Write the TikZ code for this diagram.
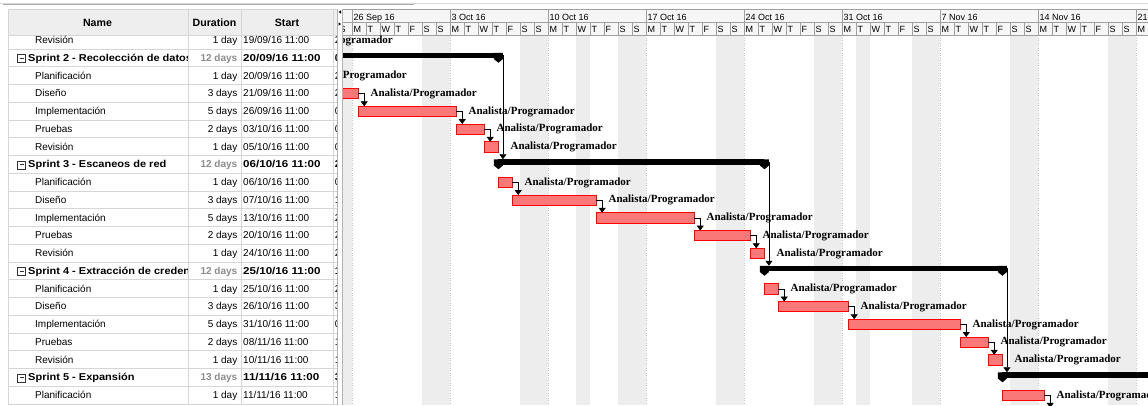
\documentclass[tikz,border=0pt]{standalone}
\usepackage{fontspec}
\setmainfont{Liberation Sans}
\newfontfamily\resfont{Liberation Serif}
\usetikzlibrary{arrows.meta}
\definecolor{barfill}{RGB}{250,120,120}
\definecolor{barline}{RGB}{255,0,0}
\definecolor{wkend}{RGB}{237,237,237}
\definecolor{hdrbg}{RGB}{238,238,238}
\definecolor{chhdrbg}{RGB}{246,246,246}
\definecolor{gridc}{RGB}{214,214,214}
\definecolor{durgray}{RGB}{140,140,140}
\newcommand\dayletter[1]{\ifcase#1 M\or T\or W\or T\or F\or S\or S\fi}

\begin{document}
\begin{tikzpicture}[x=1pt,y=-1pt,
  tabtext/.style={font=\fontsize{10}{12}\selectfont,inner sep=0pt,anchor=base west},
  tabbold/.style={font=\bfseries\fontsize{10}{12}\selectfont,inner sep=0pt,anchor=base west},
  hdrtext/.style={font=\bfseries\fontsize{10.6}{12}\selectfont,inner sep=0pt,anchor=base},
  scaletext/.style={font=\fontsize{9}{11}\selectfont,inner sep=0pt,anchor=base west},
  taskbar/.style={draw=barline,fill=barfill,line width=0.8pt,minimum height=10.2pt,inner sep=0pt,outer sep=0pt,anchor=west},
  sumbar/.style={fill=black,minimum height=5.3pt,inner sep=0pt,outer sep=0pt,anchor=west},
  link/.style={draw=black,line width=0.8pt,-{Triangle[width=7pt,length=5pt]}},
  resname/.style={font=\resfont\bfseries\fontsize{11}{13}\selectfont,inner sep=0pt,anchor=west},
  hdrline/.style={draw=gray!75,line width=0.6pt},
  gridline/.style={draw=gridc,line width=0.6pt}]
\useasboundingbox (0,0) rectangle (1148,405);
\fill[white] (0,0) rectangle (1148,405);

% window top edge
\draw[gray!30,line width=0.6pt] (0,3.5) -- (1148,3.5);
\draw[gray!65,line width=1.6pt] (3,4.3) -- (414,4.3);

% ---------------- task table ----------------
\fill[hdrbg] (8,9) rectangle (337,35);
\draw[gridline] (8,9) -- (337,9);
\draw[gridline] (8,35) -- (337,35);
\foreach \x in {8.5,188,241,333} \draw[gridline] (\x,9) -- (\x,35);
\node[hdrtext] (hname) at (97.5,26) {Name};
\node[hdrtext] (hdur) at (214.5,26) {Duration};
\node[hdrtext] (hstart) at (287,26) {Start};

\begin{scope}
\clip (8,35) rectangle (337,405);
\foreach \k in {0,...,20} \draw[gridline] (8,{48.875+17.75*\k}) -- (337,{48.875+17.75*\k});
\foreach \x in {8.5,188,241,333} \draw[gridline] (\x,35) -- (\x,405);

% plain task rows
\foreach \k/\tname/\tdur/\tstart/\tfin in {
  0/Revisión/1 day/{19/09/16 11:00}/2,
  2/Planificación/1 day/{20/09/16 11:00}/2,
  3/Diseño/3 days/{21/09/16 11:00}/2,
  4/Implementación/5 days/{26/09/16 11:00}/0,
  5/Pruebas/2 days/{03/10/16 11:00}/0,
  6/Revisión/1 day/{05/10/16 11:00}/0,
  8/Planificación/1 day/{06/10/16 11:00}/0,
  9/Diseño/3 days/{07/10/16 11:00}/1,
  10/Implementación/5 days/{13/10/16 11:00}/2,
  11/Pruebas/2 days/{20/10/16 11:00}/2,
  12/Revisión/1 day/{24/10/16 11:00}/2,
  14/Planificación/1 day/{25/10/16 11:00}/2,
  15/Diseño/3 days/{26/10/16 11:00}/3,
  16/Implementación/5 days/{31/10/16 11:00}/0,
  17/Pruebas/2 days/{08/11/16 11:00}/1,
  18/Revisión/1 day/{10/11/16 11:00}/1,
  20/Planificación/1 day/{11/11/16 11:00}/1}{
  \pgfmathsetmacro\yb{40+17.75*\k+3.5}
  \begin{scope}
    \clip (8,35) rectangle (187.5,405);
    \node[tabtext] (nm\k) at (35,\yb) {\tname};
  \end{scope}
  \node[tabtext,anchor=base east] (du\k) at (237.5,\yb) {\tdur};
  \node[tabtext] (st\k) at (243,\yb) {\tstart};
  \begin{scope}
    \clip (333.5,35) rectangle (337,405);
    \node[tabtext] (fn\k) at (334.6,\yb) {\tfin};
  \end{scope}
}

% sprint (summary) rows
\foreach \k/\tname/\tdur/\tstart/\tfin in {
  1/{Sprint 2 - Recolección de datos}/12 days/{20/09/16 11:00}/0,
  7/{Sprint 3 - Escaneos de red}/12 days/{06/10/16 11:00}/2,
  13/{Sprint 4 - Extracción de credenciales}/12 days/{25/10/16 11:00}/1,
  19/{Sprint 5 - Expansión}/13 days/{11/11/16 11:00}/3}{
  \pgfmathsetmacro\yc{40+17.75*\k}
  \pgfmathsetmacro\yb{\yc+3.5}
  \draw[gray!40!black,line width=0.5pt,fill=white] (17.5,\yc-3.5) rectangle (25.5,\yc+4.5);
  \draw[gray!40!black,line width=0.6pt] (19.5,\yc+0.5) -- (23.5,\yc+0.5);
  \begin{scope}
    \clip (8,35) rectangle (187.5,405);
    \node[tabbold] (nm\k) at (28,\yb) {\scalebox{1.1}[1]{\tname}};
  \end{scope}
  \node[tabbold,anchor=base east,text=durgray] (du\k) at (237.5,\yb) {\tdur};
  \node[tabbold] (st\k) at (243,\yb) {\scalebox{1.16}[1]{\tstart}};
  \begin{scope}
    \clip (333.5,35) rectangle (337,405);
    \node[tabbold] (fn\k) at (334.6,\yb) {\tfin};
  \end{scope}
}
\end{scope}

% splitter between table and chart
\draw[gray!60,line width=0.6pt] (337.5,9) -- (337.5,405);
\draw[gray!60,line width=0.6pt] (342.4,9) -- (342.4,405);
\fill (341,10.3) -- (338.6,12) -- (341,13.7) -- cycle;
\fill (338.6,22.3) -- (341,24) -- (338.6,25.7) -- cycle;

% ---------------- Gantt chart ----------------
\begin{scope}
\clip (343,9) rectangle (1148,405);

% non-working days: weekends and the 12 Oct / 1 Nov holidays
\foreach \w in {-1,...,8}
  \fill[wkend] ({352+98*\w+70},35) rectangle ({352+98*\w+98},405);
\foreach \d in {16,36}
  \fill[wkend] ({352+14*\d},35) rectangle ({352+14*\d+14},405);
\foreach \w in {0,...,8}
  \draw[gray!45,dotted,line width=0.5pt] ({352+98*\w},35) -- ({352+98*\w},405);

% timescale
\fill[chhdrbg] (343,9) rectangle (1148,35);
\draw[hdrline] (343,9) -- (1148,9);
\draw[hdrline] (343,22) -- (1148,22);
\draw[hdrline] (343,35) -- (1148,35);
\foreach \w in {0,...,8} \draw[hdrline] ({352+98*\w},9) -- ({352+98*\w},35);
\foreach \d in {-1,...,57} \draw[hdrline] ({352+14*\d},22) -- ({352+14*\d},35);
\foreach \w/\lab in {0/26 Sep 16,1/3 Oct 16,2/10 Oct 16,3/17 Oct 16,4/24 Oct 16,
                     5/31 Oct 16,6/7 Nov 16,7/14 Nov 16,8/21 Nov 16}
  \node[scaletext] (wk\w) at ({352+98*\w+1.5},20.3) {\lab};
\foreach \d in {-1,...,57}{
  \pgfmathtruncatemacro\dl{mod(\d+7,7)}
  \node[scaletext] (dy\d) at ({352+14*\d+1.3},32.2) {\dayletter{\dl}};
}

% task bars with their resource labels
\foreach \id/\k/\ds/\de in {s1r/0/-7/-6,
  s2p/2/-6/-5, s2d/3/-5/0, s2i/4/0/7, s2t/5/7/9, s2r/6/9/10,
  s3p/8/10/11, s3d/9/11/17, s3i/10/17/24, s3t/11/24/28, s3r/12/28/29,
  s4p/14/29/30, s4d/15/30/35, s4i/16/35/43, s4t/17/43/45, s4r/18/45/46,
  s5p/20/46/49}{
  \pgfmathsetmacro\xs{352+14*\ds+6.42}
  \pgfmathsetmacro\bw{14*(\de-\ds)}
  \pgfmathsetmacro\yb{40+17.75*\k+0.4}
  \node[taskbar,minimum width=\bw pt] (\id) at (\xs,\yb) {};
  \node[resname] (\id-res) at ([xshift=12pt]\id.east) {Analista/Programador};
}

% summary bars of the sprints
\foreach \id/\k/\ds/\de in {sp2/1/-6/10, sp3/7/10/29, sp4/13/29/46, sp5/19/46/65}{
  \pgfmathsetmacro\xs{352+14*\ds+6.42}
  \pgfmathsetmacro\bw{14*(\de-\ds)}
  \pgfmathsetmacro\yb{40+17.75*\k-2.35}
  \node[sumbar,minimum width=\bw pt] (\id) at (\xs,\yb) {};
  \foreach \an in {west,east}
    \fill (\id.\an) ++(-4.5,-2.65) -- ++(9,0) -- ++(0,6.3) -- ++(-4.5,3.7) -- ++(-4.5,-3.7) -- cycle;
}

% finish-to-start dependencies
\foreach \a/\b in {s2p/s2d, s2d/s2i, s2i/s2t, s2t/s2r,
                   s3p/s3d, s3d/s3i, s3i/s3t, s3t/s3r,
                   s4p/s4d, s4d/s4i, s4i/s4t, s4t/s4r}
  \draw[link] (\a.east) -| ([xshift=5.8pt]\b.north west);
\coordinate (s5next) at (1050.2,407.8);
\draw[link] (s5p.east) -| (s5next);
\foreach \a/\b in {sp2/sp3, sp3/sp4, sp4/sp5}
  \draw[link] (\a.east) -| ([xshift=4.5pt]\b.north west);
\end{scope}
\end{tikzpicture}
\end{document}
